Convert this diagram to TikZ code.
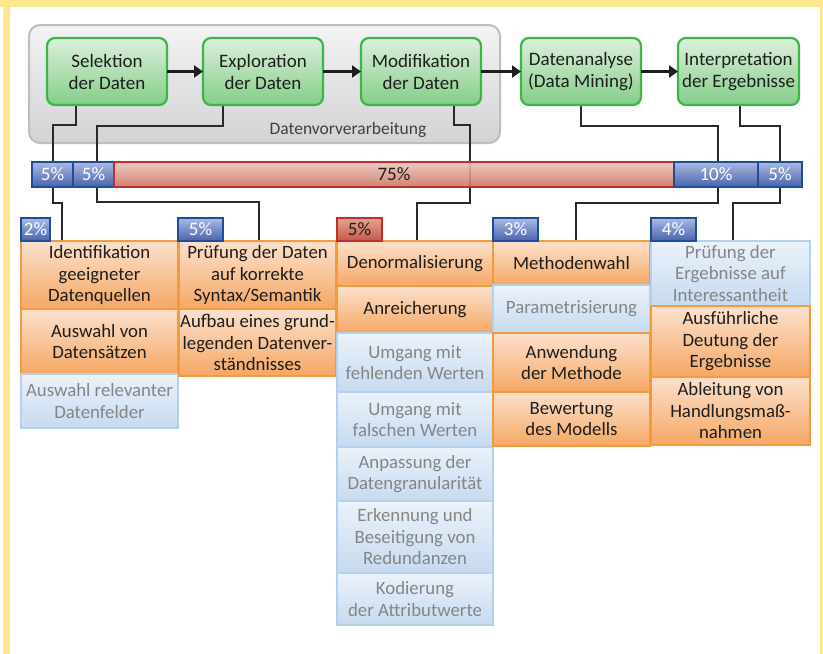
\documentclass[tikz,border=0pt]{standalone}
\usepackage{fontspec}
\setmainfont{Carlito}
\usetikzlibrary{arrows.meta}
\pgfdeclarelayer{back}
\pgfdeclarelayer{wires}
\pgfsetlayers{back,wires,main}
\definecolor{yel}{HTML}{FDE68C}
\definecolor{txt}{HTML}{1E1E1E}
\definecolor{gtx}{HTML}{858585}
\definecolor{grnT}{HTML}{DCEFDC}
\definecolor{grnBot}{HTML}{84CE88}
\definecolor{grnLine}{HTML}{3DB54A}
\definecolor{gryT}{HTML}{F3F3F4}
\definecolor{gryBot}{HTML}{D2D3D5}
\definecolor{gryLine}{HTML}{BDBEC0}
\definecolor{orT}{HTML}{FCE1CD}
\definecolor{orBot}{HTML}{F5A764}
\definecolor{orLine}{HTML}{F39A3C}
\definecolor{blT}{HTML}{EBF2FA}
\definecolor{blBot}{HTML}{C6DAF0}
\definecolor{blLine}{HTML}{B5D0EC}
\definecolor{pbT}{HTML}{A9B9E1}
\definecolor{pbBot}{HTML}{4964AD}
\definecolor{pbLine}{HTML}{1E4E99}
\definecolor{rdT}{HTML}{EEC5BA}
\definecolor{rdBot}{HTML}{C9705F}
\definecolor{rdLine}{HTML}{C0302A}
\definecolor{rsT}{HTML}{E6A293}
\definecolor{rsBot}{HTML}{C35A47}
\newcommand\bx[7]{%
  \pgfmathsetmacro\bxcx{(#3+#5)/2}%
  \pgfmathsetmacro\bxcy{(#4+#6)/2}%
  \pgfmathsetmacro\bxw{#5-#3}%
  \pgfmathsetmacro\bxh{#6-#4}%
  \node[#1,minimum width=\bxw pt,minimum height=\bxh pt] (#2) at (\bxcx,\bxcy) {#7};}
\begin{document}
\begin{tikzpicture}[x=1pt,y=-1pt,
  base/.style={inner sep=0pt,outer sep=0pt,align=center},
  greenbox/.style={base,draw=grnLine,line width=2.2pt,rounded corners=8pt,top color=grnT,bottom color=grnBot,text=txt,font=\fontsize{19}{22}\selectfont},
  graybox/.style={base,draw=gryLine,line width=2pt,rounded corners=11pt,top color=gryT,bottom color=gryBot},
  obox/.style={base,draw=orLine,line width=2pt,top color=orT,bottom color=orBot,text=txt,font=\fontsize{18.8}{21.5}\selectfont},
  bbox/.style={base,draw=blLine,line width=2pt,top color=blT,bottom color=blBot,text=gtx,font=\fontsize{18.8}{21.5}\selectfont},
  pbox/.style={base,draw=pbLine,line width=2pt,top color=pbT,bottom color=pbBot,text=white,font=\fontsize{19}{20}\selectfont},
  rbox/.style={base,draw=rdLine,line width=2pt,top color=rsT,bottom color=rsBot,text=txt,font=\fontsize{19}{20}\selectfont},
  rbar/.style={base,draw=rdLine,line width=2pt,top color=rdT,bottom color=rdBot,text=txt,fill opacity=0.88,text opacity=1,font=\fontsize{19}{20}\selectfont},
  arr/.style={line width=3pt,draw=txt,-{Triangle[length=9pt,width=12pt]}},
  conn/.style={line width=2pt,draw=txt!95!white}
]
\useasboundingbox (0,0) rectangle (823,654);
\begin{pgfonlayer}{back}
\fill[white] (0,0) rectangle (823,654);
\fill[yel] (0,0) rectangle (823,7);
\fill[yel] (3,0) rectangle (10,654);
\fill[yel] (819.5,0) rectangle (823,654);
\bx{graybox}{gbox}{29}{25}{500}{143}{}
\end{pgfonlayer}
\node[base,text=txt!85!white,font=\fontsize{17.5}{20}\selectfont] (dvl) at (348,130) {Datenvorverarbeitung};

% process steps
\bx{greenbox}{sel}{47}{38}{167}{105}{Selektion\\der Daten}
\bx{greenbox}{ex}{203}{38}{323}{105}{Exploration\\der Daten}
\bx{greenbox}{mod}{361}{38}{481}{105}{Modifikation\\der Daten}
\bx{greenbox}{da}{521}{38}{641}{105}{Datenanalyse\\(Data Mining)}
\bx{greenbox}{ip}{678}{38}{799}{105}{Interpretation\\der Ergebnisse}
\draw[arr] (sel) -- (ex);
\draw[arr] (ex) -- (mod);
\draw[arr] (mod) -- (da);
\draw[arr] (da) -- (ip);

% percentage bar
\bx{pbox}{p1}{32}{162}{73}{187}{5\%}
\bx{pbox}{p2}{73}{162}{114}{187}{5\%}
\bx{rbar}{bar}{114}{162}{674}{187}{75\%}
\bx{pbox}{p10}{674}{162}{758}{187}{10\%}
\bx{pbox}{p5}{758}{162}{802}{187}{5\%}

% columns
\bx{obox}{id}{21}{241}{178}{309}{Identifikation\\geeigneter\\Datenquellen}
\bx{obox}{aw}{21}{309}{178}{374}{Auswahl von\\Datensätzen}
\bx{bbox}{ar}{21}{374}{178}{428}{Auswahl relevanter\\Datenfelder}

\bx{obox}{pr}{179}{241}{336}{309}{Prüfung der Daten\\auf korrekte\\Syntax/Semantik}
\bx{obox}{au}{179}{309}{336}{376}{Aufbau eines grund-\\legenden Datenver-\\ständnisses}

\bx{obox}{den}{337}{241}{493}{286}{Denormalisierung}
\bx{obox}{anr}{337}{286}{493}{333}{Anreicherung}
\bx{bbox}{uf}{337}{333}{493}{392}{Umgang mit\\fehlenden Werten}
\bx{bbox}{ufa}{337}{392}{493}{447}{Umgang mit\\falschen Werten}
\bx{bbox}{anp}{337}{447}{493}{501}{Anpassung der\\Datengranularität}
\bx{bbox}{erk}{337}{501}{493}{573}{Erkennung und\\Beseitigung von\\Redundanzen}
\bx{bbox}{kod}{337}{573}{493}{625}{Kodierung\\der Attributwerte}

\bx{obox}{mw}{493}{241}{650}{285}{Methodenwahl}
\bx{bbox}{par}{493}{285}{650}{333}{Parametrisierung}
\bx{obox}{anw}{493}{333}{650}{392}{Anwendung\\der Methode}
\bx{obox}{bew}{493}{392}{650}{446}{Bewertung\\des Modells}

\bx{bbox}{pe}{651}{241}{810}{306}{Prüfung der\\Ergebnisse auf\\Interessantheit}
\bx{obox}{aus}{651}{306}{810}{377}{Ausführliche\\Deutung der\\Ergebnisse}
\bx{obox}{abl}{651}{377}{810}{445}{Ableitung von\\Handlungsmaß-\\nahmen}

% small percentage labels
\bx{pbox}{l1}{21}{218}{50}{241}{2\%}
\bx{pbox}{l2}{178}{218}{223}{241}{5\%}
\bx{rbox}{l3}{337}{218}{382}{241}{5\%}
\bx{pbox}{l4}{493}{218}{538}{241}{3\%}
\bx{pbox}{l5}{651}{218}{696}{241}{4\%}

% connectors (behind the nodes)
\begin{pgfonlayer}{wires}
\draw[conn] ([xshift=-31pt]sel.south) -- ++(0,20) -| (p1.north);
\draw[conn] ([xshift=-40pt]ex.south) -- ++(0,21) -| ([xshift=3pt]p2.north);
\draw[conn] ([xshift=33pt]mod.south) -- ++(0,20) -| ([xshift=76pt]bar.south);
\draw[conn] (da.south) -- ++(0,21) -| ([xshift=2pt]p10.north);
\draw[conn] ([xshift=1.5pt]ip.south) -- ++(0,21) -| (p5.north);

\draw[conn] (p1.south) -- ++(0,16) -| ([xshift=-37.5pt]id.north);
\draw[conn] ([xshift=3pt]p2.south) -- ++(0,15) -| ([xshift=1.5pt]pr.north);
\draw[conn] ([xshift=76pt]bar.south) -- ++(0,16) -| ([xshift=2pt]den.north);
\draw[conn] ([xshift=2pt]p10.south) -- ++(0,16) -| ([xshift=4.5pt]mw.north);
\draw[conn] (p5.south) -- ++(0,16) -| ([xshift=2.5pt]pe.north);
\end{pgfonlayer}
\end{tikzpicture}
\end{document}
